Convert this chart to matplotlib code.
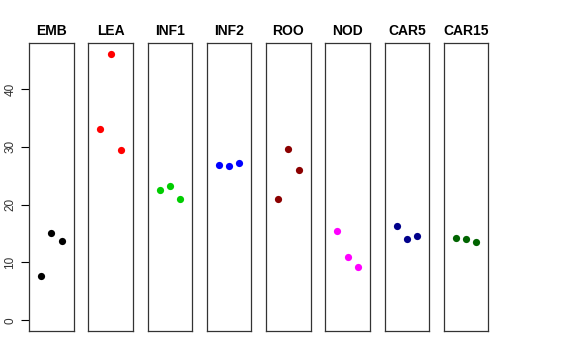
import matplotlib
matplotlib.use("Agg")
import matplotlib.pyplot as plt

plt.rcParams['font.family'] = ['Liberation Sans', 'DejaVu Sans']

# samples and their three replicate values
groups = ["EMB", "LEA", "INF1", "INF2", "ROO", "NOD", "CAR5", "CAR15"]
colors = ["black", "red", "#00CD00", "blue", "#8B0000", "magenta", "#00008B", "#006400"]
emb = [7.6, 15.1, 13.7]
lea = [33.0, 46.1, 29.45]
inf1 = [22.5, 23.2, 21.0]
inf2 = [26.9, 26.6, 27.15]
roo = [20.9, 29.6, 26.05]
nod = [15.4, 10.95, 9.2]
car5 = [16.3, 14.1, 14.6]
car15 = [14.2, 14.05, 13.55]
values = [emb, lea, inf1, inf2, roo, nod, car5, car15]
reps = [1, 2, 3]
yticks = [0, 10, 20, 30, 40]

W, H = 576, 360
fig = plt.figure(figsize=(W / 100, H / 100), dpi=100)

ymax = max(max(v) for v in values)
pad = ymax * 0.04
panel_w = 44.7
step = 59.25
left0 = 29
bottom_px = 29
height_px = 288

for i, (name, col, vals) in enumerate(zip(groups, colors, values)):
    ax = fig.add_axes([(left0 + i * step) / W, bottom_px / H, panel_w / W, height_px / H])
    ax.plot(reps, vals, 'o', color=col, markersize=5.2, markeredgewidth=0)
    ax.set_xlim(-0.16, 4.16)
    ax.set_ylim(-pad, ymax + pad)
    ax.set_xticks([])
    for s in ax.spines.values():
        s.set_color("#333333")
        s.set_linewidth(0.9)
    ax.set_title(name, fontsize=10, fontweight='bold', pad=6)
    if i == 0:
        ax.set_yticks(yticks)
        ax.set_yticklabels([str(t) for t in yticks], rotation=90, va='center', fontsize=8.5, color="#333333")
        ax.tick_params(axis='y', length=6, width=0.8, pad=3)
    else:
        ax.set_yticks([])

fig.savefig("out.png", dpi=100)
